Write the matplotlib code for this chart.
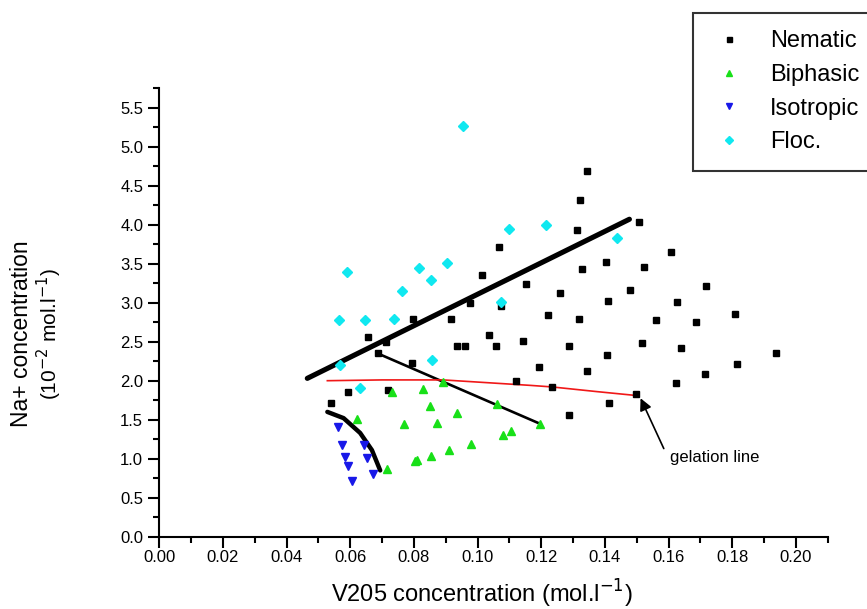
import matplotlib
matplotlib.use("Agg")
import matplotlib.pyplot as plt
from matplotlib.ticker import MultipleLocator, FormatStrFormatter

plt.rcParams['font.family'] = ['Liberation Sans', 'DejaVu Sans']

# ---------------- data ----------------
nematic_x = [0.1343, 0.1323, 0.1508, 0.1313, 0.1068, 0.1014, 0.1327, 0.1402, 0.1522, 0.1152,
             0.1260, 0.1479, 0.0977, 0.1074, 0.1411, 0.0797, 0.0918, 0.1221, 0.1319, 0.1561,
             0.1607, 0.1717, 0.1626, 0.1809, 0.1687, 0.1517, 0.1640, 0.1406, 0.1939, 0.1814,
             0.1714, 0.1623, 0.1498, 0.1414, 0.0656, 0.0713, 0.1037, 0.0934, 0.0961, 0.1059,
             0.1142, 0.0686, 0.0795, 0.1192, 0.1121, 0.0593, 0.0717, 0.0538, 0.1286, 0.1345,
             0.1234, 0.1287]
nematic_y = [4.69, 4.32, 4.04, 3.93, 3.72, 3.35, 3.43, 3.52, 3.46, 3.24,
             3.12, 3.16, 3.00, 2.96, 3.02, 2.79, 2.79, 2.84, 2.79, 2.78,
             3.65, 3.21, 3.01, 2.86, 2.75, 2.48, 2.42, 2.33, 2.36, 2.21,
             2.09, 1.97, 1.83, 1.71, 2.56, 2.49, 2.59, 2.45, 2.45, 2.44,
             2.51, 2.35, 2.23, 2.18, 2.00, 1.86, 1.88, 1.71, 2.45, 2.12,
             1.92, 1.56]

biphasic_x = [0.0731, 0.0830, 0.0892, 0.0850, 0.0935, 0.1060, 0.0622, 0.0769, 0.0874,
              0.1195, 0.1104, 0.1080, 0.0980, 0.0910, 0.0853, 0.0802, 0.0809, 0.0715]
biphasic_y = [1.86, 1.89, 1.98, 1.68, 1.59, 1.70, 1.51, 1.44, 1.46,
              1.45, 1.35, 1.31, 1.19, 1.11, 1.04, 0.97, 0.98, 0.87]

isotropic_x = [0.0560, 0.0574, 0.0643, 0.0584, 0.0654, 0.0592, 0.0671, 0.0604]
isotropic_y = [1.41, 1.18, 1.18, 1.02, 1.01, 0.91, 0.81, 0.72]

floc_x = [0.0954, 0.1100, 0.1215, 0.1438, 0.0816, 0.0905, 0.0853, 0.0761, 0.0589, 0.1072,
          0.0564, 0.0646, 0.0738, 0.0858, 0.0568, 0.0631]
floc_y = [5.27, 3.95, 3.99, 3.83, 3.45, 3.51, 3.29, 3.15, 3.40, 3.01,
          2.78, 2.78, 2.79, 2.26, 2.20, 1.91]

# boundary lines drawn on the diagram
upper_line_x = [0.0465, 0.1477]
upper_line_y = [2.03, 4.07]
mid_line_x = [0.0686, 0.1195]
mid_line_y = [2.35, 1.45]
gel_line_x = [0.0528, 0.0700, 0.0892, 0.1166, 0.1234, 0.1375, 0.1499]
gel_line_y = [2.00, 2.01, 2.01, 1.94, 1.92, 1.86, 1.81]
iso_curve_x = [0.0528, 0.0579, 0.0631, 0.0668, 0.0694]
iso_curve_y = [1.60, 1.52, 1.33, 1.11, 0.85]

# annotation: arrow head / tail and label position (data units)
arrow_head = (0.1512, 1.775)
arrow_tail = (0.1585, 1.13)
label_pos = (0.1603, 1.01)

legend_labels = ["Nematic", "Biphasic", "Isotropic", "Floc."]

# ---------------- figure ----------------
W, H = 867, 609
fig = plt.figure(figsize=(W / 100, H / 100), dpi=100)
x0, x1 = 159.3, 827.7
y0, y1 = 536.7, 88.2
ax = fig.add_axes([x0 / W, 1 - y0 / H, (x1 - x0) / W, (y0 - y1) / H])

ax.plot(upper_line_x, upper_line_y, color='black', lw=3.7, solid_capstyle='round', zorder=2)
ax.plot(mid_line_x, mid_line_y, color='black', lw=1.9, solid_capstyle='round', zorder=2)
ax.plot(gel_line_x, gel_line_y, color='#f01818', lw=1.2, zorder=2)
ax.plot(iso_curve_x, iso_curve_y, color='black', lw=3.2, solid_capstyle='round', zorder=2)

h1, = ax.plot(nematic_x, nematic_y, ls='none', marker='s', ms=4.5, color='black', zorder=3)
h2, = ax.plot(biphasic_x, biphasic_y, ls='none', marker='^', ms=6, color='#18e018', mec='#18e018', zorder=3)
h3, = ax.plot(isotropic_x, isotropic_y, ls='none', marker='v', ms=6, color='#1818e8', mec='#1818e8', zorder=3)
h4, = ax.plot(floc_x, floc_y, ls='none', marker='D', ms=4.6, color='#10e8f0', mec='#10e8f0', zorder=3)

ax.annotate("", xy=arrow_head, xytext=arrow_tail,
            arrowprops=dict(arrowstyle='-|>', color='black', lw=1.2, mutation_scale=18,
                            shrinkA=0, shrinkB=0))
ax.text(label_pos[0], label_pos[1], "gelation line", fontsize=12, va='center', ha='left')

ax.set_xlim(0, 0.21)
ax.set_ylim(0, 5.75)
ax.xaxis.set_major_locator(MultipleLocator(0.02))
ax.xaxis.set_minor_locator(MultipleLocator(0.01))
ax.yaxis.set_major_locator(MultipleLocator(0.5))
ax.yaxis.set_minor_locator(MultipleLocator(0.25))
ax.xaxis.set_major_formatter(FormatStrFormatter('%.2f'))
ax.yaxis.set_major_formatter(FormatStrFormatter('%.1f'))
ax.set_xticks([i * 0.02 for i in range(11)])
ax.set_xlim(0, 0.21)
for s in ['top', 'right']:
    ax.spines[s].set_visible(False)
for s in ['left', 'bottom']:
    ax.spines[s].set_linewidth(1.5)
ax.tick_params(which='major', direction='out', length=7.6, width=1.5, labelsize=12, pad=4)
ax.tick_params(which='minor', direction='out', length=4, width=1.5)
ax.tick_params(axis='x', which='major', pad=2)

fig.text(482 / W, 1 - 594 / H, r"V205 concentration (mol.l$^{-1}$)", fontsize=17,
         ha='center', va='center')
fig.text(22 / W, 1 - 334 / H, "Na+ concentration", fontsize=16.5, rotation=90,
         ha='center', va='center')
fig.text(49 / W, 1 - 334 / H, r"(10$^{-2}$ mol.l$^{-1}$)", fontsize=15, rotation=90,
         ha='center', va='center')

leg = fig.legend([h1, h2, h3, h4], legend_labels, loc='upper left',
                 bbox_to_anchor=(693 / W, 1 - 13 / H), fontsize=17, frameon=True,
                 fancybox=False, edgecolor='black', borderpad=0.74, handlelength=1.57,
                 handletextpad=0.95, labelspacing=0.49, borderaxespad=0, markerscale=0.8)
leg.get_frame().set_linewidth(1.5)

fig.savefig("out.png", dpi=100)
